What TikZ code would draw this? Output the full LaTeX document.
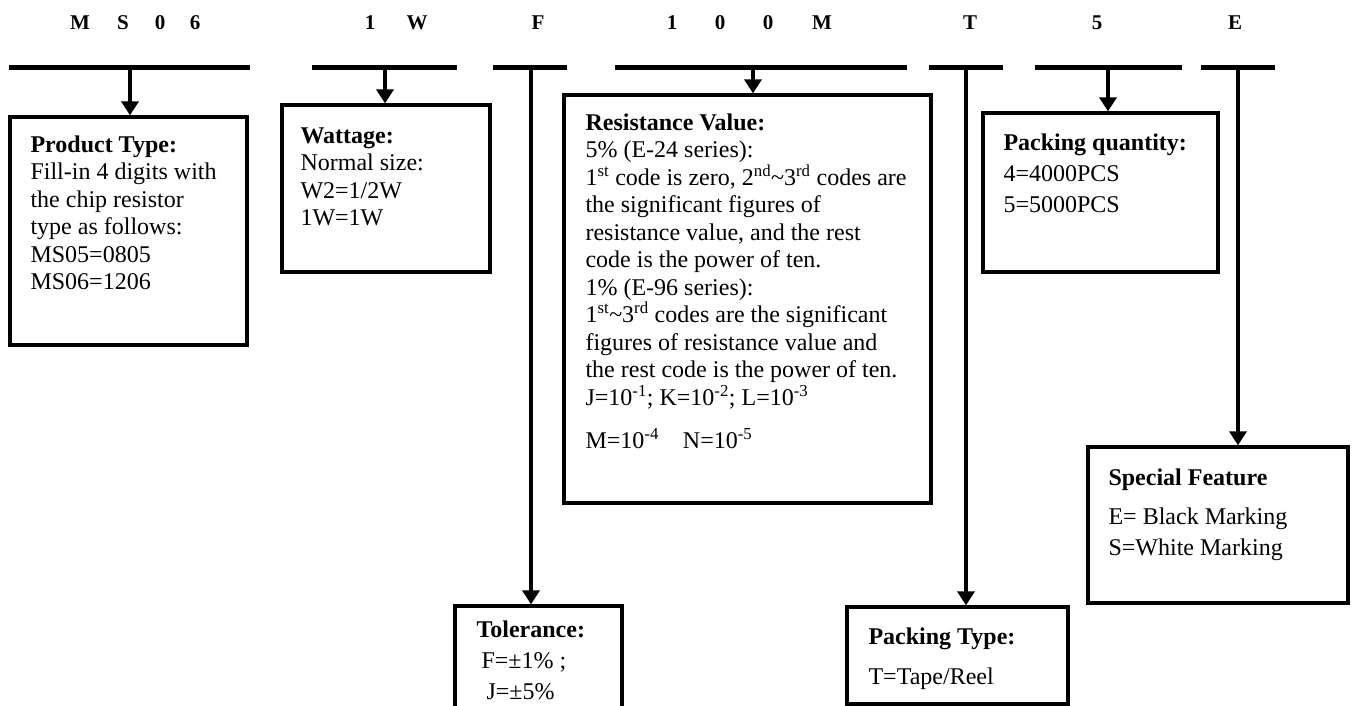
\documentclass[tikz,border=0pt]{standalone}
\usepackage{fontspec}
\setmainfont{Liberation Serif}
\usetikzlibrary{arrows.meta,positioning}

\begin{document}
\begin{tikzpicture}[x=1pt,y=-1pt]

\tikzset{
  bar/.style={line width=5pt},
  arr/.style={line width=3.5pt,-{Triangle[length=14pt,width=17pt]}},
  box/.style={draw,line width=3.3pt,inner sep=0pt},
  digit/.style={font=\fontsize{21}{23}\selectfont\bfseries},
  txt/.style={align=left,inner sep=0pt,font=\fontsize{24}{27.5}\selectfont}
}

\useasboundingbox (0,0) rectangle (1358,706);

\foreach \ch/\x [count=\i] in {M/80,S/123,0/160,6/195,1/370,W/417,F/538,1/672,0/720,0/768,M/822,T/970,5/1097,E/1235}
  \node[digit] (c\i) at (\x,23) {\ch};

\foreach \xa/\xb/\xm [count=\i] in {9/250/130,312/457/385,493/567/531,615/907/753,929/1003/966,1035/1182/1108,1201/1275/1238}
{
  \draw[bar] (\xa,68) -- (\xb,68);
  \coordinate (b\i) at (\xm,66);
}

\node[box,minimum width=237pt,minimum height=228pt] (ptype) at (128.5,231) {};
\node[box,minimum width=208pt,minimum height=167pt] (watt) at (386,188.5) {};
\node[box,minimum width=367pt,minimum height=408pt] (resv) at (747.5,299) {};
\node[box,minimum width=167pt,minimum height=114pt] (tol) at (538.5,663) {};
\node[box,minimum width=221pt,minimum height=97pt] (ptyp) at (957.5,655.5) {};
\node[box,minimum width=235pt,minimum height=159pt] (pqty) at (1100.5,192.5) {};
\node[box,minimum width=260pt,minimum height=156pt] (spec) at (1218,525) {};

\node[txt,below right=20pt and 22pt of ptype.north west] (ptypetxt)
  {\textbf{Product Type:}\\Fill-in 4 digits with\\the chip resistor\\type as follows:\\MS05=0805\\MS06=1206};
\node[txt,below right=24pt and 20pt of watt.north west] (watttxt)
  {\textbf{Wattage:}\\Normal size:\\W2=1/2W\\1W=1W};
\node[txt,below right=20pt and 23pt of resv.north west] (resvtxt)
  {\textbf{Resistance Value:}\\
   5\% (E-24 series):\\
   1\textsuperscript{st} code is zero, 2\textsuperscript{nd}\textasciitilde3\textsuperscript{rd} codes are\\
   the significant figures of\\
   resistance value, and the rest\\
   code is the power of ten.\\
   1\% (E-96 series):\\
   1\textsuperscript{st}\textasciitilde3\textsuperscript{rd} codes are the significant\\
   figures of resistance value and\\
   the rest code is the power of ten.\\
   J=10\textsuperscript{-1}; K=10\textsuperscript{-2}; L=10\textsuperscript{-3}\\[16pt]
   M=10\textsuperscript{-4}\quad N=10\textsuperscript{-5}};
\node[txt,font=\fontsize{24}{31}\selectfont,below right=16pt and 23pt of tol.north west] (toltxt)
  {\textbf{Tolerance:}\\\hspace*{5pt}F=±1\% ;\\\hspace*{10pt}J=±5\%};
\node[txt,font=\fontsize{24}{40}\selectfont,below right=22pt and 23pt of ptyp.north west] (ptyptxt)
  {\textbf{Packing Type:}\\T=Tape/Reel};
\node[txt,font=\fontsize{24}{31}\selectfont,below right=22pt and 22pt of pqty.north west] (pqtytxt)
  {\textbf{Packing quantity:}\\4=4000PCS\\5=5000PCS};
\node[txt,font=\fontsize{24}{31}\selectfont,below right=23pt and 22pt of spec.north west] (spectxt)
  {\textbf{Special Feature}\\[8pt]E= Black Marking\\S=White Marking};

\draw[arr] (b1) -- (b1 |- ptype.north);
\draw[arr] (b2) -- (b2 |- watt.north);
\draw[arr] (b3) -- (b3 |- tol.north);
\draw[arr] (b4) -- (b4 |- resv.north);
\draw[arr] (b5) -- (b5 |- ptyp.north);
\draw[arr] (b6) -- (b6 |- pqty.north);
\draw[arr] (b7) -- (b7 |- spec.north);

\end{tikzpicture}
\end{document}
